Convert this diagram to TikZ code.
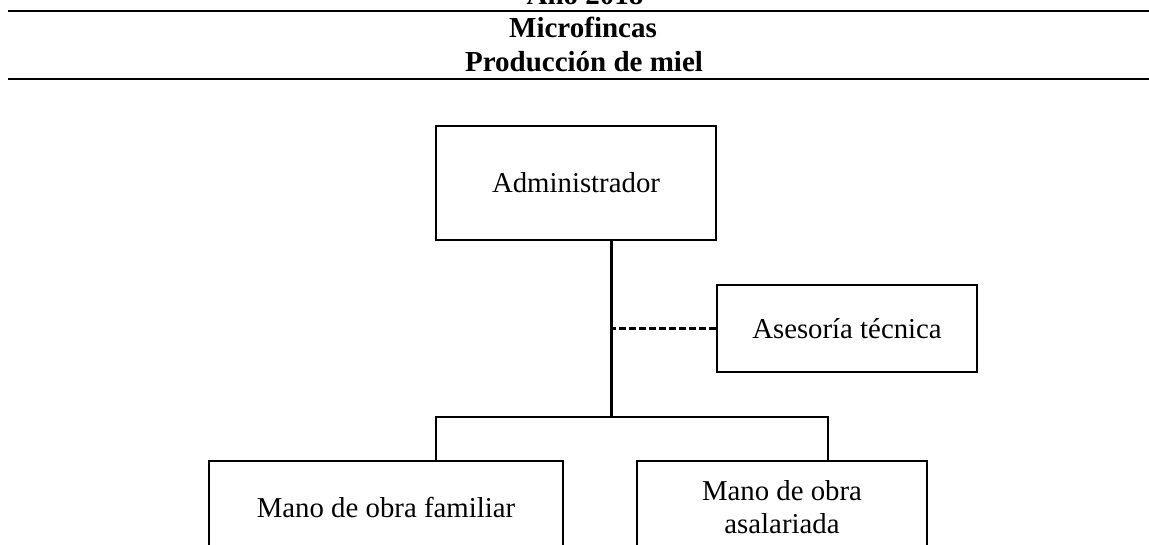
\documentclass[tikz,border=0pt]{standalone}
\usepackage{fontspec}
\setmainfont{Liberation Serif}
\begin{document}
\begin{tikzpicture}[x=1pt,y=-1pt,line width=2.7pt,
  every node/.style={font=\fontsize{28.8}{33}\selectfont},
  caja/.style={draw,inner sep=0pt,align=center},
  titulo/.style={anchor=base,font=\bfseries\fontsize{29}{35}\selectfont}]
  \useasboundingbox (0,0) rectangle (1149,544);
  \clip (0,0) rectangle (1149,544);
  % encabezado
  \node[titulo] (anio) at (585,4) {Año 2018};
  \node[titulo] (t1) at (583,37) {Microfincas};
  \node[titulo] (t2) at (584,71) {Producción de miel};
  \draw[line width=2.2pt] (8,11) -- (1160,11);
  \draw[line width=2.2pt] (8,79) -- (1160,79);
  % organigrama
  \node[caja,minimum width=280,minimum height=114] (adm) at (576,183) {Administrador};
  \node[caja,minimum width=260,minimum height=87] (ase) at (847,328.5) {Asesoría técnica};
  \node[caja,minimum width=354,minimum height=92] (fam) at (386,507) {Mano de obra familiar};
  \node[caja,minimum width=290,minimum height=92] (asa) at (782,507) {Mano de obra\\asalariada};
  \coordinate (j) at (611.5,417);
  \coordinate (jl) at (436,417);
  \coordinate (jr) at (828,417);
  \draw (adm.south -| j) -- (j);
  \draw[line width=2.2pt,dash pattern=on 7pt off 3pt] (ase.west) -- (ase.west -| j);
  \draw (jl |- fam.north) -- (jl) -- (jr) -- (jr |- asa.north);
\end{tikzpicture}
\end{document}
